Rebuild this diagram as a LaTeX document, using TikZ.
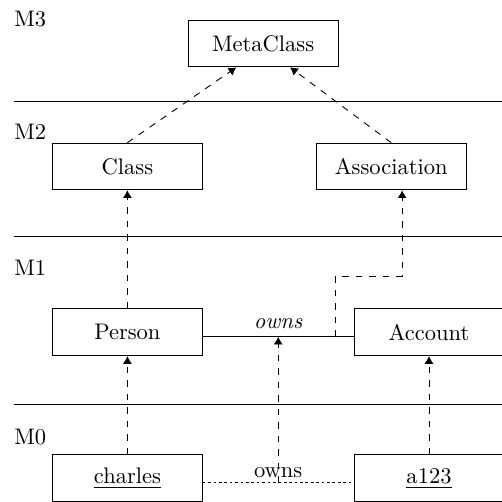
\documentclass[tikz,border=0pt]{standalone}
\usepackage{tikz}
\usetikzlibrary{arrows.meta}

\begin{document}
\begin{tikzpicture}[
  cls/.style={draw, minimum width=2.34cm, minimum height=0.73cm},
  layer/.style={anchor=west},
  inst/.style={dashed, -{Latex[length=3.4pt,width=4pt]}}
]
  \useasboundingbox (0,0) rectangle (7.84,7.84);
  \clip (0,0) rectangle (7.84,7.84);

  % layers
  \draw (0.22,6.25) -- (7.84,6.25);
  \draw (0.22,4.15) -- (7.84,4.15);
  \draw (0.22,1.53) -- (7.84,1.53);
  \node[layer] (m3) at (0.10,7.54) {M3};
  \node[layer] (m2) at (0.10,5.78) {M2};
  \node[layer] (m1) at (0.10,3.66) {M1};
  \node[layer] (m0) at (0.10,1.02) {M0};

  % classes
  \node[cls] (metaclass) at (4.11,7.16) {MetaClass};
  \node[cls] (class) at (1.99,5.24) {Class};
  \node[cls] (association) at (6.11,5.24) {Association};
  \node[cls] (person) at (1.99,2.65) {Person};
  \node[cls] (account) at (6.70,2.65) {Account};
  \node[cls] (charles) at (1.99,0.37) {\underline{charles}};
  \node[cls] (a123) at (6.70,0.37) {\underline{a123}};

  % links
  \draw ([yshift=-0.07cm]person.east) -- node[above] {\textit{owns}}
    coordinate[pos=0.5] (ownsassoc) coordinate[pos=0.88] (ownsbend)
    ([yshift=-0.07cm]account.west);
  \draw[dash pattern=on 1.2pt off 1.2pt] ([yshift=-0.07cm]charles.east) --
    node[above, inner sep=2pt] {owns} coordinate[pos=0.5] (ownslink)
    ([yshift=-0.07cm]a123.west);

  % instance of
  \draw[inst] (class.north) -- ([xshift=-0.42cm]metaclass.south);
  \draw[inst] (association.north) -- ([xshift=0.42cm]metaclass.south);
  \draw[inst] (person.north) -- (class.south);
  \draw[inst] (ownsbend) -- ++(0,0.95) -| ([xshift=0.17cm]association.south);
  \draw[inst] (charles.north) -- (person.south);
  \draw[inst] (a123.north) -- (account.south);
  \draw[inst] (ownslink) -- (ownsassoc);
\end{tikzpicture}
\end{document}
